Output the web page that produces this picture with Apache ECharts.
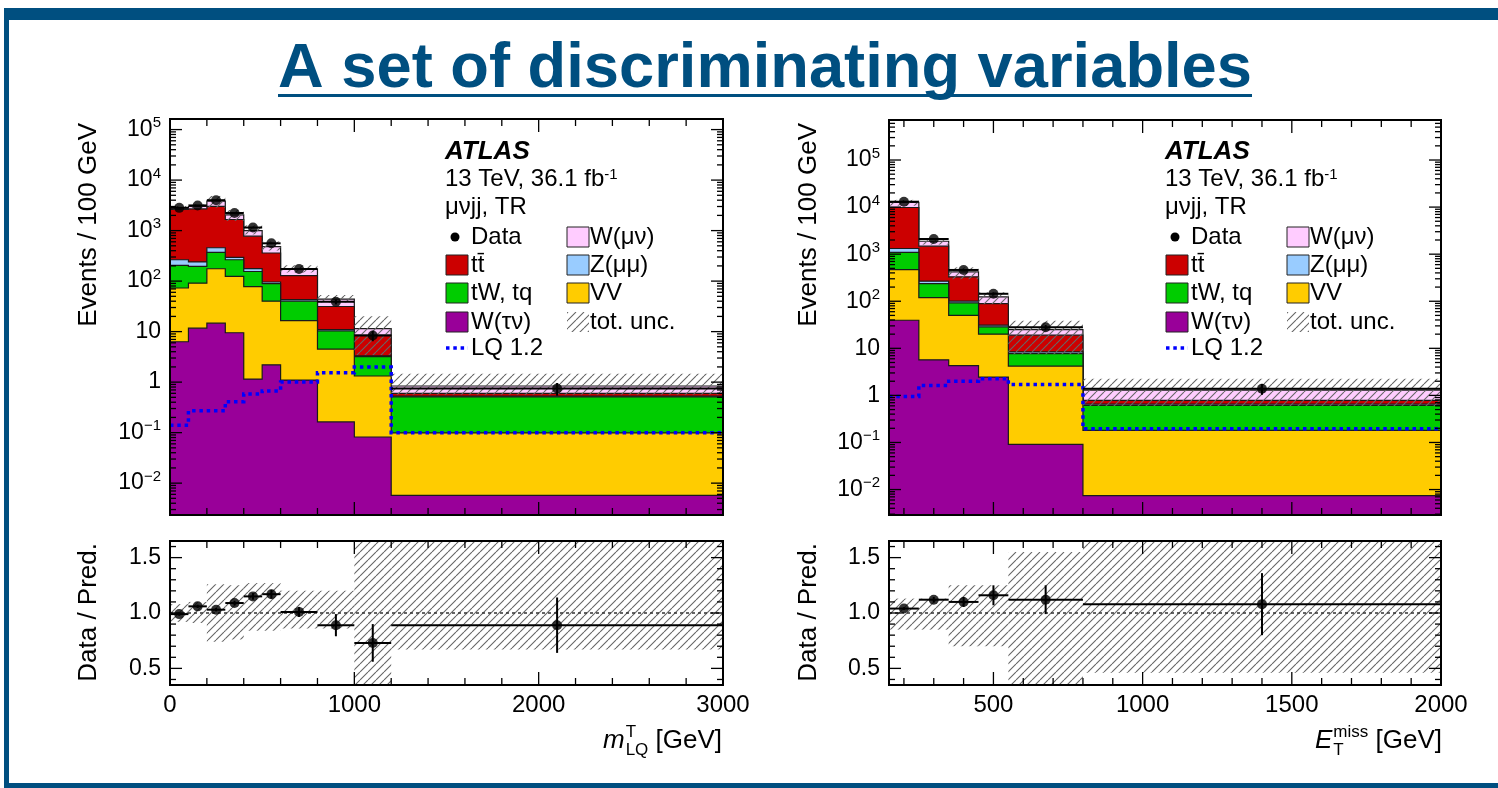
<!DOCTYPE html>
<html>
<head>
<meta charset="utf-8">
<script src="https://cdn.jsdelivr.net/npm/echarts@6/dist/echarts.min.js"></script>
<style>
html,body{margin:0;padding:0;background:#fff;}
#chart{width:1498px;height:788px;}
</style>
</head>
<body>
<div id="chart"></div>
<script>
// ---------- m_LQ^T distribution (Events / 100 GeV), mu nu jj top region ----------
const mlqEdges     = [0, 100, 200, 300, 400, 500, 600, 800, 1000, 1200, 3000];
const mlqWtaunu    = [6.3, 11.7, 14.7, 9.5, 1.15, 2.2, 1.1, 0.163, 0.082, 0.0057];
const mlqVV        = [66.7, 79.3, 161, 114.5, 76.9, 37.8, 15.4, 4.34, 1.24, 0.093];
const mlqSingleTop = [131, 104, 194, 141, 77, 49, 23.5, 5.8, 1.88, 0.41];
const mlqZmumu     = [61, 45, 88, 30, 22, 7, 3, 0.7, 0.1, 0.02];
const mlqTtbar     = [2355, 2450, 2572, 1365, 598, 264, 85, 20.4, 5.2, 0.07];
const mlqWmunu     = [230, 310, 820, 390, 225, 120, 44, 12.6, 3.0, 0.24];
const mlqData      = [2820, 3150, 4000, 2230, 1150, 560, 174, 39, 8.4, 0.75];
const mlqLQ        = [0.14, 0.27, 0.27, 0.41, 0.58, 0.67, 1.0, 1.53, 2.0, 0.1];
const mlqRatio     = [0.99, 1.06, 1.03, 1.09, 1.15, 1.17, 1.01, 0.89, 0.73, 0.89];
const mlqRatioErr  = [0.015, 0.015, 0.015, 0.02, 0.03, 0.04, 0.045, 0.1, 0.17, 0.25];
const mlqUncLo     = [0.92, 0.91, 0.74, 0.76, 0.84, 0.84, 0.86, 0.86, 0.30, 0.67];
const mlqUncHi     = [1.08, 1.10, 1.26, 1.25, 1.27, 1.27, 1.20, 1.20, 1.75, 1.75];

// ---------- E_T^miss distribution ----------
const metEdges     = [150, 250, 350, 450, 550, 800, 2000];
const metWtaunu    = [39.5, 5.7, 4.3, 2.45, 0.091, 0.0074];
const metVV        = [430, 114, 45.7, 17.5, 4.1, 0.173];
const metSingleTop = [620, 118, 42, 8.5, 3.5, 0.43];
const metZmumu     = [230, 29, 9, 2.5, 0.7, 0.04];
const metTtbar     = [8480, 1213, 229, 58, 10.6, 0.13];
const metWmunu     = [2800, 400, 90, 35, 6, 0.51];
const metData      = [13000, 2100, 462, 144, 28, 1.39];
const metLQ        = [0.95, 1.63, 2.0, 2.26, 1.71, 0.195];
const metRatio     = [1.04, 1.12, 1.10, 1.16, 1.12, 1.08];
const metRatioErr  = [0.012, 0.025, 0.045, 0.09, 0.13, 0.28];
const metUncLo     = [0.85, 0.85, 0.70, 0.70, 0.30, 0.46];
const metUncHi     = [1.13, 1.13, 1.25, 1.25, 1.55, 1.75];

// ---------- axis ranges and tick marks ----------
const mlqRange      = [0, 3000];
const metRange      = [150, 2000];
const mlqEventRange = [0.00234, 1.62e5];
const metEventRange = [0.00288, 7.08e5];
const ratioRange    = [0.35, 1.65];
const mlqMajorTicks = [0, 1000, 2000, 3000];
const mlqMinorTicks = [200, 400, 600, 800, 1200, 1400, 1600, 1800, 2200, 2400, 2600, 2800];
const metMajorTicks = [500, 1000, 1500, 2000];
const metMinorTicks = [200, 300, 400, 600, 700, 800, 900, 1100, 1200, 1300, 1400, 1600, 1700, 1800, 1900];
const ratioMajorTicks = [0.5, 1.0, 1.5];
const ratioMinorTicks = [0.4, 0.6, 0.7, 0.8, 0.9, 1.1, 1.2, 1.3, 1.4, 1.6];

// ---------- legend ----------
const legendLeftCol  = [['Data', 'data'], ['tt\u0304', '#cc0000'], ['tW, tq', '#00cc00'], ['W(\u03c4\u03bd)', '#990099'], ['LQ 1.2', 'lq']];
const legendRightCol = [['W(\u03bc\u03bd)', '#ffccff'], ['Z(\u03bc\u03bc)', '#99ccff'], ['VV', '#ffcc00'], ['tot. unc.', 'hatch']];

// stacking order, bottom to top
const stackColors = ['#990099', '#ffcc00', '#00cc00', '#99ccff', '#cc0000', '#ffccff'];

const FONT = "'Liberation Sans', Arial, Helvetica, sans-serif";
const SLIDE_BLUE = '#004f80';

function measure(text, font) {
  const g = document.createElement('canvas').getContext('2d');
  g.font = font;
  return g.measureText(text).width;
}

function hatchPattern(color, size, width) {
  const c = document.createElement('canvas');
  c.width = size; c.height = size;
  const g = c.getContext('2d');
  g.strokeStyle = color; g.lineWidth = width;
  g.beginPath();
  for (const k of [-size, 0, size]) { g.moveTo(k, size); g.lineTo(k + size, 0); }
  g.stroke();
  return { image: c, repeat: 'repeat' };
}
const HATCH = hatchPattern('#666', 8, 1.1);

function cumulate(comps) {
  const tops = [];
  let run = comps[0].map(() => 0);
  comps.forEach(c => { run = run.map((v, i) => v + c[i]); tops.push(run.slice()); });
  return tops;
}

// filled histogram with a black step outline, reaching down to the bottom of the frame
function stepFill(ax, edges, tops, color) {
  return {
    type: 'custom', xAxisIndex: ax, yAxisIndex: ax, z: 2, silent: true, clip: true,
    data: [[edges[0], tops[0]]],
    renderItem(params, api) {
      const cs = params.coordSys, yb = cs.y + cs.height;
      const pts = [];
      tops.forEach((t, i) => {
        const a = api.coord([edges[i], t]), b = api.coord([edges[i + 1], t]);
        pts.push([a[0], a[1]], [b[0], b[1]]);
      });
      const poly = [[pts[0][0], yb]].concat(pts, [[pts[pts.length - 1][0], yb]]);
      return { type: 'group', children: [
        { type: 'polygon', shape: { points: poly }, style: { fill: color, stroke: null } },
        { type: 'polyline', shape: { points: poly }, style: { fill: null, stroke: '#1a1a1a', lineWidth: 1.2 } }
      ] };
    }
  };
}

function hatchBand(ax, edges, lo, hi) {
  return {
    type: 'custom', xAxisIndex: ax, yAxisIndex: ax, z: 3, silent: true, clip: true,
    data: lo.map((v, i) => [edges[i], v, edges[i + 1], hi[i]]),
    renderItem(params, api) {
      const a = api.coord([api.value(0), api.value(3)]);
      const b = api.coord([api.value(2), api.value(1)]);
      return { type: 'rect', shape: { x: a[0], y: a[1], width: b[0] - a[0], height: b[1] - a[1] },
               style: { fill: HATCH, stroke: null } };
    }
  };
}

function lqLine(ax, edges, vals) {
  return {
    type: 'custom', xAxisIndex: ax, yAxisIndex: ax, z: 4, silent: true, clip: true,
    data: [[edges[0], vals[0]]],
    renderItem(params, api) {
      const pts = [];
      vals.forEach((v, i) => { pts.push(api.coord([edges[i], v]), api.coord([edges[i + 1], v])); });
      return { type: 'polyline', shape: { points: pts },
               style: { fill: null, stroke: '#0000ff', lineWidth: 3.5, lineDash: [3.5, 3.8], lineCap: 'butt' } };
    }
  };
}

function errorBars(ax, edges, y, lo, hi) {
  return {
    type: 'custom', xAxisIndex: ax, yAxisIndex: ax, z: 5, silent: true, clip: true,
    data: y.map((v, i) => [(edges[i] + edges[i + 1]) / 2, v, lo[i], hi[i], edges[i], edges[i + 1]]),
    renderItem(params, api) {
      const l = api.coord([api.value(0), api.value(2)]);
      const h = api.coord([api.value(0), api.value(3)]);
      const a = api.coord([api.value(4), api.value(1)]);
      const b = api.coord([api.value(5), api.value(1)]);
      const st = { stroke: '#000', lineWidth: 2 };
      return { type: 'group', children: [
        { type: 'line', shape: { x1: a[0], y1: a[1], x2: b[0], y2: b[1] }, style: st },
        { type: 'line', shape: { x1: l[0], y1: l[1], x2: h[0], y2: h[1] }, style: st }
      ] };
    }
  };
}

function dataPoints(ax, edges, y) {
  return {
    type: 'scatter', xAxisIndex: ax, yAxisIndex: ax, z: 6, silent: true,
    symbol: 'circle', symbolSize: 10, itemStyle: { color: '#000' },
    data: y.map((v, i) => [(edges[i] + edges[i + 1]) / 2, v])
  };
}

function unityLine(ax, xr) {
  return {
    type: 'custom', xAxisIndex: ax, yAxisIndex: ax, z: 4, silent: true, clip: true,
    data: [[xr[0], 1]],
    renderItem(params, api) {
      const a = api.coord([xr[0], 1]), b = api.coord([xr[1], 1]);
      return { type: 'line', shape: { x1: a[0], y1: a[1], x2: b[0], y2: b[1] },
               style: { stroke: '#333', lineWidth: 1.6, lineDash: [3, 3] } };
    }
  };
}

function logTicks(r) {
  const major = [], minor = [];
  for (let e = Math.floor(Math.log10(r[0])); e <= Math.ceil(Math.log10(r[1])); e++) {
    const p = Math.pow(10, e);
    if (p >= r[0] && p <= r[1]) major.push(p);
    for (let m = 2; m <= 9; m++) { const v = m * p; if (v > r[0] && v < r[1]) minor.push(v); }
  }
  return { major, minor };
}

// frame plus inward tick marks on all four sides
function frame(ax, xr, yr, xMaj, xMin, yMaj, yMin) {
  return {
    type: 'custom', xAxisIndex: ax, yAxisIndex: ax, z: 8, silent: true, clip: false,
    data: [[xr[0], yr[0]]],
    renderItem(params, api) {
      const cs = params.coordSys;
      const x0 = cs.x, x1 = cs.x + cs.width, y0 = cs.y, y1 = cs.y + cs.height;
      const st = { stroke: '#000', lineWidth: 1.3 };
      const kids = [];
      const tx = (v, len) => {
        const p = api.coord([v, yr[0]])[0];
        kids.push({ type: 'line', shape: { x1: p, y1: y1, x2: p, y2: y1 - len }, style: st },
                  { type: 'line', shape: { x1: p, y1: y0, x2: p, y2: y0 + len }, style: st });
      };
      const ty = (v, len) => {
        const p = api.coord([xr[0], v])[1];
        kids.push({ type: 'line', shape: { x1: x0, y1: p, x2: x0 + len, y2: p }, style: st },
                  { type: 'line', shape: { x1: x1, y1: p, x2: x1 - len, y2: p }, style: st });
      };
      xMaj.forEach(v => tx(v, 13)); xMin.forEach(v => tx(v, 7));
      yMaj.forEach(v => ty(v, 12)); yMin.forEach(v => ty(v, 6));
      kids.push({ type: 'rect', shape: { x: x0, y: y0, width: cs.width, height: cs.height },
                  style: { fill: null, stroke: '#000', lineWidth: 2 } });
      return { type: 'group', children: kids };
    }
  };
}

function topPanel(ax, edges, comps, data, lq, ratio, ratioErr, uncLo, uncHi, xr, yr, xMaj, xMin) {
  const tops = cumulate(comps);
  const total = tops[tops.length - 1];
  const out = [];
  for (let k = comps.length - 1; k >= 0; k--) out.push(stepFill(ax, edges, tops[k], stackColors[k]));
  out.push(hatchBand(ax, edges, total.map((t, i) => t * uncLo[i]), total.map((t, i) => t * uncHi[i])));
  out.push(lqLine(ax, edges, lq));
  out.push(errorBars(ax, edges, data,
    data.map((d, i) => d * (1 - ratioErr[i] / ratio[i])),
    data.map((d, i) => d * (1 + ratioErr[i] / ratio[i]))));
  out.push(dataPoints(ax, edges, data));
  const lt = logTicks(yr);
  out.push(frame(ax, xr, yr, xMaj, xMin, lt.major, lt.minor));
  return out;
}

function ratioPanel(ax, edges, ratio, ratioErr, uncLo, uncHi, xr, xMaj, xMin) {
  return [
    hatchBand(ax, edges, uncLo, uncHi),
    unityLine(ax, xr),
    errorBars(ax, edges, ratio, ratio.map((r, i) => r - ratioErr[i]), ratio.map((r, i) => r + ratioErr[i])),
    dataPoints(ax, edges, ratio),
    frame(ax, xr, ratioRange, xMaj, xMin, ratioMajorTicks, ratioMinorTicks)
  ];
}

const series = [].concat(
  topPanel(0, mlqEdges, [mlqWtaunu, mlqVV, mlqSingleTop, mlqZmumu, mlqTtbar, mlqWmunu],
           mlqData, mlqLQ, mlqRatio, mlqRatioErr, mlqUncLo, mlqUncHi, mlqRange, mlqEventRange, mlqMajorTicks, mlqMinorTicks),
  ratioPanel(1, mlqEdges, mlqRatio, mlqRatioErr, mlqUncLo, mlqUncHi, mlqRange, mlqMajorTicks, mlqMinorTicks),
  topPanel(2, metEdges, [metWtaunu, metVV, metSingleTop, metZmumu, metTtbar, metWmunu],
           metData, metLQ, metRatio, metRatioErr, metUncLo, metUncHi, metRange, metEventRange, metMajorTicks, metMinorTicks),
  ratioPanel(3, metEdges, metRatio, metRatioErr, metUncLo, metUncHi, metRange, metMajorTicks, metMinorTicks)
);

// ---------- axes ----------
const hidden = { axisTick: { show: false }, axisLine: { show: false }, splitLine: { show: false } };
const labelBase = { color: '#000', fontFamily: FONT, fontSize: 23 };
function powLabel(v) {
  const e = Math.log10(v), k = Math.round(e);
  if (Math.abs(e - k) > 1e-6) return '';
  if (k === 0) return '1';
  if (k === 1) return '10';
  return '10{s|' + (k < 0 ? '\u2212' + (-k) : k) + '}';
}
const supRich = { s: { fontSize: 15, fontFamily: FONT, color: '#000', verticalAlign: 'top', lineHeight: 15 } };

function xAxisDef(grid, r, showLabels, stepLabel, opts) {
  return Object.assign({
    gridIndex: grid, type: 'value', min: r[0], max: r[1],
    axisLabel: showLabels ? Object.assign({}, labelBase, { fontSize: 24, margin: 8,
      formatter: v => (Math.abs(v / stepLabel - Math.round(v / stepLabel)) < 1e-9 ? String(v) : '') }) : { show: false }
  }, hidden, opts || {});
}
function yLogDef(grid, r) {
  return Object.assign({
    gridIndex: grid, type: 'log', logBase: 10, min: r[0], max: r[1],
    axisLabel: Object.assign({}, labelBase, { margin: 9, lineHeight: 28, formatter: powLabel, rich: supRich })
  }, hidden);
}
function yRatioDef(grid) {
  return Object.assign({
    gridIndex: grid, type: 'value', min: ratioRange[0], max: ratioRange[1], splitNumber: 3,
    axisLabel: Object.assign({}, labelBase, { margin: 9,
      formatter: v => (Math.abs(v * 2 - Math.round(v * 2)) < 1e-9 ? v.toFixed(1) : '') })
  }, hidden);
}

// ---------- text and decorations ----------
const titleText = 'A set of discriminating variables';
const titleFont = 'bold 63px ' + FONT;
const titleScale = 974 / measure(titleText, titleFont);

const TXT = '24px ' + FONT;
function legendGroup(ox) {
  const els = [];
  const t = (x, y, text, font, rich) => els.push({ type: 'text', x, y,
    style: { text, font: font || TXT, fill: '#000', align: 'left', verticalAlign: 'middle', rich } });
  t(ox, 152, 'ATLAS', 'bold italic 26px ' + FONT);
  t(ox, 179, '13 TeV, 36.1 fb{s|-1}', TXT, { s: { fontSize: 15, fontFamily: FONT, verticalAlign: 'top', lineHeight: 15 } });
  t(ox, 207, '\u03bc\u03bdjj, TR');
  const rows = [237, 265, 293, 322, 348];
  legendLeftCol.forEach((e, i) => {
    const y = rows[i];
    if (e[1] === 'data') {
      els.push({ type: 'circle', shape: { cx: ox + 10, cy: y, r: 4.5 }, style: { fill: '#000' } });
    } else if (e[1] === 'lq') {
      els.push({ type: 'line', shape: { x1: ox + 1, y1: y, x2: ox + 23, y2: y },
                 style: { stroke: '#0000ff', lineWidth: 3.5, lineDash: [3.5, 3.8] } });
    } else {
      els.push({ type: 'rect', shape: { x: ox + 1, y: y - 10, width: 22, height: 20 },
                 style: { fill: e[1], stroke: '#222', lineWidth: 1 } });
    }
    t(ox + 26, y, e[0]);
  });
  legendRightCol.forEach((e, i) => {
    const y = rows[i];
    if (e[1] === 'hatch') {
      els.push({ type: 'rect', shape: { x: ox + 122, y: y - 10, width: 22, height: 20 }, style: { fill: HATCH } });
    } else {
      els.push({ type: 'rect', shape: { x: ox + 122, y: y - 10, width: 22, height: 20 },
                 style: { fill: e[1], stroke: '#222', lineWidth: 1 } });
    }
    t(ox + 145, y, e[0]);
  });
  return els;
}

function vTitle(x, yTop, text) {
  return { type: 'text', x, y: yTop, rotation: Math.PI / 2,
           style: { text, font: '26px ' + FONT, fill: '#000', align: 'right', verticalAlign: 'middle' } };
}

// x-axis title built from pieces: italic symbol, superscript, subscript, unit
function xTitle(xRight, y, sym, sup, sub) {
  const unit = ' [GeV]';
  const uFont = '26px ' + FONT, sFont = 'italic 26px ' + FONT, smFont = '17px ' + FONT;
  const wU = measure(unit, uFont);
  const wScript = Math.max(measure(sup, smFont), measure(sub, smFont));
  const xScript = xRight - wU - wScript;
  const xSym = xScript - measure(sym, sFont) - 1;
  const st = (text, font) => ({ text, font, fill: '#000', align: 'left', verticalAlign: 'middle' });
  return [
    { type: 'text', x: xSym, y, style: st(sym, sFont) },
    { type: 'text', x: xScript, y: y - 9, style: st(sup, smFont) },
    { type: 'text', x: xScript, y: y + 9, style: st(sub, smFont) },
    { type: 'text', x: xRight - wU, y, style: st(unit, uFont) }
  ];
}

const graphics = [
  { type: 'rect', shape: { x: 4, y: 8, width: 1494, height: 12 }, style: { fill: SLIDE_BLUE } },
  { type: 'rect', shape: { x: 4, y: 8, width: 5, height: 780 }, style: { fill: SLIDE_BLUE } },
  { type: 'rect', shape: { x: 4, y: 783, width: 1494, height: 5 }, style: { fill: SLIDE_BLUE } },
  { type: 'text', x: 278, y: 70, scaleX: titleScale,
    style: { text: titleText, font: titleFont, fill: SLIDE_BLUE, align: 'left', verticalAlign: 'middle' } },
  { type: 'rect', shape: { x: 278, y: 94, width: 974, height: 3 }, style: { fill: SLIDE_BLUE } },
  vTitle(89, 123, 'Events / 100 GeV'),
  vTitle(89, 543, 'Data / Pred.'),
  vTitle(809, 123, 'Events / 100 GeV'),
  vTitle(809, 543, 'Data / Pred.')
].concat(
  xTitle(722, 741, 'm', 'T', 'LQ'),
  xTitle(1442, 741, 'E', 'miss', 'T'),
  legendGroup(445),
  legendGroup(1165)
);

const option = {
  animation: false,
  backgroundColor: '#ffffff',
  grid: [
    { left: 170, top: 119, width: 553, height: 396, outerBoundsMode: 'none' },
    { left: 170, top: 541, width: 553, height: 144, outerBoundsMode: 'none' },
    { left: 889, top: 120, width: 552, height: 395, outerBoundsMode: 'none' },
    { left: 889, top: 541, width: 552, height: 144, outerBoundsMode: 'none' }
  ],
  xAxis: [
    xAxisDef(0, mlqRange, false),
    xAxisDef(1, mlqRange, true, 1000, { interval: 1000 }),
    xAxisDef(2, metRange, false),
    xAxisDef(3, metRange, true, 500, { splitNumber: 4 })
  ],
  yAxis: [
    yLogDef(0, mlqEventRange),
    yRatioDef(1),
    yLogDef(2, metEventRange),
    yRatioDef(3)
  ],
  series,
  graphic: { elements: graphics }
};

const chart = echarts.init(document.getElementById('chart'), null, { renderer: 'canvas' });
chart.setOption(option);
</script>
</body>
</html>
